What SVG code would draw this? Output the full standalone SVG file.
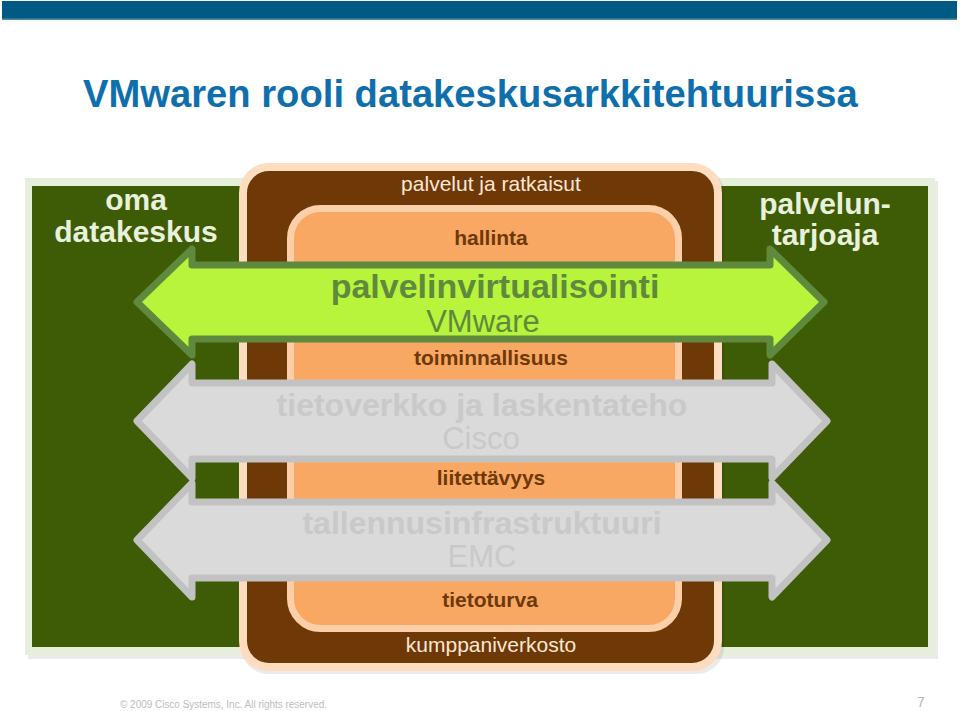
<svg xmlns="http://www.w3.org/2000/svg" width="960" height="711" viewBox="0 0 960 711">
<style>
text{font-family:"Liberation Sans",Arial,Helvetica,sans-serif;text-anchor:middle}
.b{font-weight:bold}
.corner{fill:#e8f1dc;font-size:30px;font-weight:bold}
.lightbrown{fill:#fde6d3;font-size:21px}
.brown{fill:#6e3906;font-size:21px;font-weight:bold}
.garrow{fill:#b8f43c;stroke:#5f8a3e;stroke-width:7;stroke-linejoin:round}
.gtext{fill:#5f8a3e}
.grey{fill:#dadada;stroke:#c2c2c2;stroke-width:7;stroke-linejoin:round}
.greytext{fill:#c9c9c9}
.big{font-size:32px}
</style>
<rect width="960" height="711" fill="#ffffff"/>
<g id="header">
<rect x="2" y="1" width="955" height="18" fill="#005a83"/>
<rect x="2" y="18.5" width="955" height="1.5" fill="#4f8eaa"/>
<text x="83" y="107" style="text-anchor:start;font-size:38.2px;font-weight:bold;fill:#0f6fad">VMwaren rooli datakeskusarkkitehtuurissa</text>
</g>
<g id="green-area">
<rect x="28" y="181" width="910" height="478" fill="#000" opacity="0.08"/>
<rect x="25" y="178" width="910" height="477" fill="#e6efdb"/>
<rect x="32" y="186" width="896" height="461" fill="#3e5b06"/>
<text class="corner" x="136" y="210">oma</text>
<text class="corner" x="136" y="242">datakeskus</text>
<text class="corner" x="825" y="214">palvelun-</text>
<text class="corner" x="825" y="245">tarjoaja</text>
</g>
<g id="kumppaniverkosto">
<rect x="241" y="166" width="483" height="508" rx="27" fill="#000" opacity="0.08"/>
<rect x="243" y="167" width="475" height="500" rx="26" fill="#6e3906" stroke="#fddcbf" stroke-width="8"/>
<text class="lightbrown" x="491" y="191">palvelut ja ratkaisut</text>
<text class="lightbrown" x="491" y="652">kumppaniverkosto</text>
</g>
<g id="orange-core">
<rect x="290.5" y="208.5" width="388" height="420" rx="30" fill="#f8a862" stroke="#fdcfa8" stroke-width="7"/>
<text class="brown" x="491" y="245">hallinta</text>
<text class="brown" x="491" y="365">toiminnallisuus</text>
<text class="brown" x="491" y="485">liitettävyys</text>
<text class="brown" x="490" y="607">tietoturva</text>
</g>
<g id="connectors">
<g id="arrow-palvelinvirtualisointi">
<path class="garrow" d="M137,302 L192,249 L192,265 L770,265 L770,249 L824,302 L770,355 L770,339 L192,339 L192,355 Z"/>
<text class="gtext b" x="495" y="298" style="font-size:34px">palvelinvirtualisointi</text>
<text class="gtext" x="483" y="332" style="font-size:31px">VMware</text>
</g>
<g id="arrow-tietoverkko">
<path class="grey" d="M137,421 L192,364 L192,383 L772,383 L772,364 L827,421 L772,478 L772,459 L192,459 L192,478 Z"/>
<text class="greytext b big" x="482" y="416">tietoverkko ja laskentateho</text>
<text class="greytext" x="481" y="449" style="font-size:31px">Cisco</text>
</g>
<g id="arrow-tallennus">
<path class="grey" d="M137,540 L192,483 L192,502 L772,502 L772,483 L827,540 L772,597 L772,578 L192,578 L192,597 Z"/>
<text class="greytext b big" x="482" y="534">tallennusinfrastruktuuri</text>
<text class="greytext" x="482" y="567" style="font-size:31px">EMC</text>
</g>
</g>
<g id="footer">
<text x="120" y="708" textLength="207" lengthAdjust="spacingAndGlyphs" style="text-anchor:start;font-size:10px;fill:#bdbdbd">© 2009 Cisco Systems, Inc. All rights reserved.</text>
<text x="921" y="707" style="font-size:14px;fill:#b5b5b5">7</text>
</g>
</svg>
